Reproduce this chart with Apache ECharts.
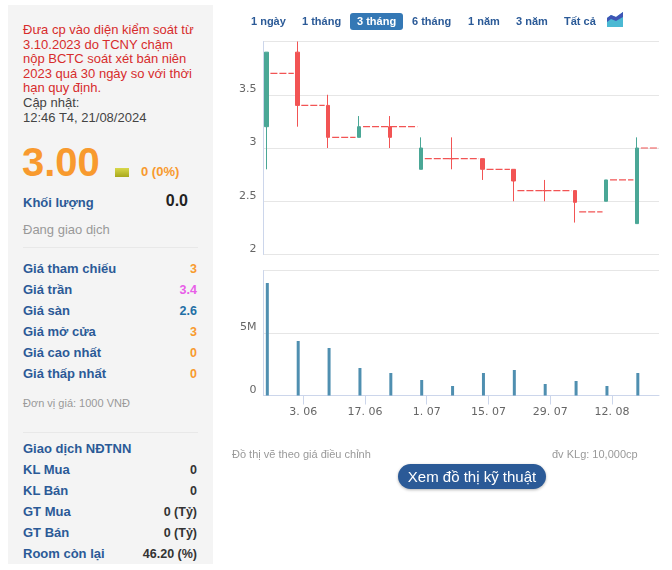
<!DOCTYPE html>
<html>
<head>
<meta charset="utf-8">
<script src="https://cdn.jsdelivr.net/npm/echarts@6/dist/echarts.min.js"></script>
<style>
    html, body { margin: 0; padding: 0; background: #fff; overflow: hidden; }
    body { width: 672px; height: 570px; position: relative; font-family: "Liberation Sans", Arial, sans-serif; }
    #side { position: absolute; left: 8px; top: 5px; width: 205px; height: 559px; background: #f4f4f4; }
    #side div, #top span, .abs { position: absolute; white-space: nowrap; }
    .lb { left: 15px; font-size: 13px; font-weight: bold; color: #2b5a97; line-height: 16px; }
    .vl { right: 16px; font-size: 12.5px; font-weight: bold; line-height: 16px; text-align: right; }
    .hr { left: 15px; width: 175px; height: 1px; background: #e8e8e8; }
    #top span { top: 14px; font-size: 11px; font-weight: bold; color: #2b5a97; line-height: 14px; }
    #demo { position: absolute; left: 0; top: 0; width: 672px; height: 570px; }
</style>
</head>
<body>
<div id="demo"></div>
<div id="side">
    <div style="left:15px;top:18px;font-size:13px;line-height:14.5px;color:#d72c2c;">Đưa cp vào diện kiểm soát từ<br>3.10.2023 do TCNY chậm<br>nộp BCTC soát xét bán niên<br>2023 quá 30 ngày so với thời<br>hạn quy định.</div>
    <div style="left:15px;top:90px;font-size:13px;line-height:15px;color:#444;">Cập nhật:<br>12:46 T4, 21/08/2024</div>
    <div style="left:14px;top:134px;font-size:40px;line-height:46px;font-weight:bold;color:#f89a2e;">3.00</div>
    <div style="left:107px;top:163px;width:14px;height:9px;background:linear-gradient(#d8d84a,#a8a81c);"></div>
    <div style="left:133px;top:159px;font-size:13px;line-height:16px;font-weight:bold;color:#f89a2e;">0 (0%)</div>
    <div class="lb" style="top:190px;">Khối lượng</div>
    <div style="right:25px;top:187px;font-size:16px;line-height:18px;font-weight:bold;color:#222;">0.0</div>
    <div style="left:15px;top:217px;font-size:13px;line-height:16px;color:#999;">Đang giao dịch</div>
    <div class="hr" style="top:242px;"></div>
    <div class="lb" style="top:256px;">Giá tham chiếu</div><div class="vl" style="top:256px;color:#f89a2e;">3</div>
    <div class="lb" style="top:277px;">Giá trần</div><div class="vl" style="top:277px;color:#e85ee8;">3.4</div>
    <div class="lb" style="top:298px;">Giá sàn</div><div class="vl" style="top:298px;color:#1f6fa5;">2.6</div>
    <div class="lb" style="top:319px;">Giá mở cửa</div><div class="vl" style="top:319px;color:#f89a2e;">3</div>
    <div class="lb" style="top:340px;">Giá cao nhất</div><div class="vl" style="top:340px;color:#f89a2e;">0</div>
    <div class="lb" style="top:361px;">Giá thấp nhất</div><div class="vl" style="top:361px;color:#f89a2e;">0</div>
    <div style="left:15px;top:391px;font-size:11px;line-height:14px;color:#999;">Đơn vị giá: 1000 VNĐ</div>
    <div class="hr" style="top:427px;"></div>
    <div class="lb" style="top:436px;">Giao dịch NĐTNN</div>
    <div class="lb" style="top:457px;">KL Mua</div><div class="vl" style="top:457px;color:#333;">0</div>
    <div class="lb" style="top:478px;">KL Bán</div><div class="vl" style="top:478px;color:#333;">0</div>
    <div class="lb" style="top:499px;">GT Mua</div><div class="vl" style="top:499px;color:#333;">0 (Tỷ)</div>
    <div class="lb" style="top:520px;">GT Bán</div><div class="vl" style="top:520px;color:#333;">0 (Tỷ)</div>
    <div class="lb" style="top:541px;">Room còn lại</div><div class="vl" style="top:541px;color:#333;">46.20 (%)</div>
</div>
<div id="top">
    <span style="left:251px;">1 ngày</span>
    <span style="left:302px;">1 tháng</span>
    <div class="abs" style="left:350px;top:13px;width:53px;height:17px;background:#3478b5;border-radius:3px;"></div>
    <span style="left:357px;color:#fff;">3 tháng</span>
    <span style="left:412px;">6 tháng</span>
    <span style="left:468px;">1 năm</span>
    <span style="left:516px;">3 năm</span>
    <span style="left:564px;">Tất cả</span>
    <svg class="abs" style="left:607px;top:12px;" width="16" height="15" viewBox="0 0 16 15">
        <path d="M0 15V6L4 3L9 5L16 0V15Z" fill="#4bb9d3"/>
        <path d="M0 6L4 3L9 5L16 0V5L9 9L4 7L0 10Z" fill="#3f55b5"/>
    </svg>
</div>
<div class="abs" style="left:232px;top:447px;font-size:11px;line-height:14px;color:#999;">Đồ thị vẽ theo giá điều chỉnh</div>
<div class="abs" style="left:552px;top:447px;font-size:11px;line-height:14px;color:#999;">đv KLg: 10,000cp</div>
<div class="abs" style="left:398px;top:464px;width:148px;height:25px;line-height:25px;text-align:center;border-radius:13px;background:#2b5a97;color:#fff;font-size:15px;box-shadow:0 1px 3px rgba(0,0,0,.3);">Xem đồ thị kỹ thuật</div>

<script>
/**
 * 数据区 --- 周K线, 价格单位 1000 VND
 */
var weeks = ['2024-05-25T16:00Z', '2024-06-01T16:00Z', '2024-06-08T16:00Z', '2024-06-15T16:00Z', '2024-06-22T16:00Z',
    '2024-06-29T16:00Z', '2024-07-06T16:00Z', '2024-07-13T16:00Z', '2024-07-20T16:00Z', '2024-07-27T16:00Z',
    '2024-08-03T16:00Z', '2024-08-10T16:00Z', '2024-08-17T16:00Z'];
var opens = [3.2, 3.9, 3.4, 3.1, 3.2, 2.8, 2.9, 2.9, 2.8, 2.6, 2.6, 2.5, 2.29];
var closes = [3.9, 3.4, 3.1, 3.2, 3.1, 3.0, 2.9, 2.8, 2.69, 2.6, 2.49, 2.7, 3.0];
var lows = [2.8, 3.2, 3.0, 3.1, 3.0, 2.8, 2.8, 2.7, 2.5, 2.5, 2.3, 2.5, 2.29];
var highs = [3.9, 4.0, 3.5, 3.3, 3.3, 3.1, 3.1, 2.9, 2.8, 2.7, 2.6, 2.7, 3.1];
var volumes = [9000000, 4360000, 3800000, 2200000, 1800000, 1240000, 760000, 1800000, 2040000, 920000, 1160000, 760000, 1800000];
// 红色虚线的价位, null 表示上一段穿过这一周继续
var refLevels = [3.7, 3.4, 3.1, 3.2, null, 2.9, null, 2.8, 2.6, null, 2.4, 2.7, 3.0];
var tickDates = ['2024-06-03', '2024-06-17', '2024-07-01', '2024-07-15', '2024-07-29', '2024-08-12'];
var priceTicks = [2, 2.5, 3, 3.5];
var volumeTicks = [0, 5000000];

var axisMin = Date.parse('2024-05-25T00:00Z');
var axisMax = Date.parse('2024-08-22T16:00Z');
var DAY = 86400000;

/******************************************************* 函数区 ********************************************************/

// 把 refLevels 拼成带断点的折线数据
function build_ref_line() {
    var out = [];
    refLevels.forEach(function (level, i) {
        if (level === null) return;
        var next = i + 1;
        while (next < weeks.length && refLevels[next] === null) next++;
        var from = Date.parse(weeks[i]) + 0.9 * DAY;
        var to = next < weeks.length ? Date.parse(weeks[next]) - 0.8 * DAY : axisMax;
        out.push([from, level], [to, level], [to, '-']);
    });
    return out;
}

function fmt_tick(value) {
    var d = new Date(value);
    var m = d.getUTCMonth() + 1;
    return d.getUTCDate() + '. ' + (m < 10 ? '0' + m : m);
}

/******************************************************* 图表 ********************************************************/

var myChart = echarts.init(document.getElementById('demo'));
var labelFont = { color: '#666', fontSize: 11, fontFamily: '"DejaVu Sans", sans-serif' };
var tickMs = tickDates.map(function (d) { return Date.parse(d + 'T00:00Z'); });

myChart.setOption({
    animation: false,
    grid: [
        { left: 263.5, width: 395.5, top: 41.5, height: 213 },
        { left: 263.5, width: 395.5, top: 270.5, height: 125 }
    ],
    xAxis: [
        {
            type: 'value', gridIndex: 0, min: axisMin, max: axisMax, scale: true,
            axisLine: { show: false },
            axisTick: { show: false }, axisLabel: { show: false }, splitLine: { show: false }
        },
        {
            type: 'value', gridIndex: 1, min: axisMin, max: axisMax, scale: true,
            axisLine: { show: true, onZero: false, lineStyle: { color: '#ccd6eb' } },
            axisTick: { show: true, length: 9, customValues: tickMs, lineStyle: { color: '#ccd6eb' } },
            axisLabel: {
                show: true, customValues: tickMs, margin: 11, hideOverlap: false,
                color: labelFont.color, fontSize: labelFont.fontSize, fontFamily: labelFont.fontFamily,
                formatter: fmt_tick
            },
            splitLine: { show: false }
        }
    ],
    yAxis: [
        {
            type: 'value', gridIndex: 0, min: 2, max: 4, interval: 0.5, position: 'left',
            axisLine: { show: true, lineStyle: { color: '#ccd6eb' } }, axisTick: { show: false },
            axisLabel: {
                margin: 7, verticalAlign: 'bottom', color: labelFont.color, fontSize: labelFont.fontSize, fontFamily: labelFont.fontFamily,
                formatter: function (v) { return priceTicks.indexOf(v) >= 0 ? String(v) : ''; }
            },
            splitLine: { lineStyle: { color: '#e6e6e6' } }
        },
        {
            type: 'value', gridIndex: 1, min: 0, max: 10000000, interval: 5000000, position: 'left',
            axisLine: { show: true, lineStyle: { color: '#ccd6eb' } }, axisTick: { show: false },
            axisLabel: {
                margin: 7, verticalAlign: 'bottom', color: labelFont.color, fontSize: labelFont.fontSize, fontFamily: labelFont.fontFamily,
                formatter: function (v) { return volumeTicks.indexOf(v) < 0 ? '' : (v === 0 ? '0' : v / 1000000 + 'M'); }
            },
            splitLine: { lineStyle: { color: '#e6e6e6' } }
        }
    ],
    series: [
        {
            type: 'candlestick', xAxisIndex: 0, yAxisIndex: 0, barWidth: 4, clip: true,
            itemStyle: { color: '#4aa796', color0: '#f25454', borderColor: '#4aa796', borderColor0: '#f25454', borderWidth: 1 },
            data: weeks.map(function (w, i) {
                return [Date.parse(w), opens[i], closes[i], lows[i], highs[i]];
            })
        },
        {
            type: 'line', xAxisIndex: 0, yAxisIndex: 0, showSymbol: false, symbol: 'none', connectNulls: false, z: 1,
            lineStyle: { color: '#f25454', width: 1.2, type: [7, 2] },
            data: build_ref_line()
        },
        {
            type: 'bar', xAxisIndex: 1, yAxisIndex: 1, barWidth: 3,
            itemStyle: { color: '#4f8fb0' },
            data: weeks.map(function (w, i) { return [Date.parse(w) + 0.2 * DAY, volumes[i]]; })
        }
    ]
});

window.onresize = function () {
    myChart.resize();
};
</script>
</body>
</html>
